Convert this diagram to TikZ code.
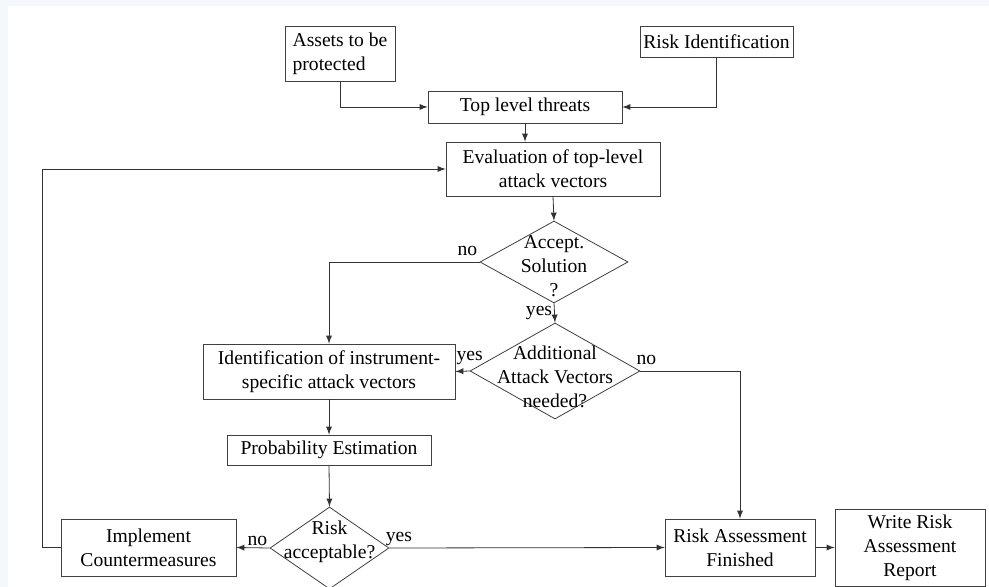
\documentclass[tikz,border=0pt]{standalone}
\usepackage{fontspec}
\setmainfont{Liberation Serif}
\usepackage{tikz}
\usetikzlibrary{arrows,shapes}
\definecolor{pagebg}{HTML}{F4F8FD}
\newcommand{\flowfont}{\fontsize{9.8}{12}\selectfont}
\tikzset{
	box/.style={draw=black!75, thin, rectangle, inner sep=0pt, align=center, font=\flowfont},
	decision/.style={draw=black!75, thin, diamond, inner sep=0pt, font=\flowfont},
	lbl/.style={font=\flowfont, inner sep=1pt},
	flow/.style={->, >=latex, draw=black!80, thin},
}

\begin{document}
\begin{tikzpicture}[x=0.5pt,y=-0.5pt]
	\useasboundingbox (0,0) rectangle (989,587);
	\clip (0,0) rectangle (989,587);
	\fill[pagebg] (0,0) rectangle (989,587);
	\fill[white] (8,6) rectangle (989,587);
	%
	\node[box, minimum width=55pt, minimum height=27.5pt, align=left] (assets) at (340,53.5) {Assets to be\\protected};
	\node[box, minimum width=76.5pt, minimum height=15.5pt] (riskid) at (716.5,41.5) {Risk Identification};
	\node[box, minimum width=97pt, minimum height=16pt] (top) at (525,107) {Top level threats};
	\node[box, minimum width=107pt, minimum height=27pt] (eval) at (553,169) {Evaluation of top-level\\attack vectors};
	\node[decision, minimum width=74pt, minimum height=41pt,
		label={[lbl, align=center, yshift=-2pt]center:Accept.\\Solution\\?}] (acc) at (554,262) {};
	\node[decision, minimum width=85pt, minimum height=48pt,
		label={[lbl, align=center, yshift=-3pt]center:Additional\\Attack Vectors\\needed?}] (add) at (555,371) {};
	\node[box, minimum width=126pt, minimum height=27.5pt] (ident) at (329,371.5) {Identification of instrument-\\specific attack vectors};
	\node[box, minimum width=102pt, minimum height=15pt] (prob) at (329,450) {Probability Estimation};
	\node[decision, minimum width=59.5pt, minimum height=41pt,
		label={[lbl, align=center, yshift=3pt]center:Risk\\acceptable?}] (risk) at (329.5,548) {};
	\node[box, minimum width=87.5pt, minimum height=28.5pt] (impl) at (148.5,547.5) {Implement\\Countermeasures};
	\node[box, minimum width=75pt, minimum height=28.5pt] (fin) at (740,547.5) {Risk Assessment\\Finished};
	\node[box, minimum width=75pt, minimum height=38.5pt] (report) at (910,547.5) {Write Risk\\Assessment\\Report};
	\coordinate (back) at (42,169);
	%
	\draw[flow] (assets.south) |- (top.west);
	\draw[flow] (riskid.south) |- (top.east);
	\draw[flow] (top.south) -- (top.south |- eval.north);
	\draw[flow] (eval.south) -- (acc.north);
	\draw[flow] (acc.west) -| node[lbl, pos=0, above left, yshift=2pt]{no} (ident.north);
	\draw[flow] (acc.south) -- node[lbl, left]{yes} (add.north);
	\draw[flow] (add.west) -- node[lbl, pos=0, above, yshift=2pt]{yes} (ident.east);
	\draw[flow] (add.east) -| node[lbl, pos=0, above, xshift=3pt, yshift=2pt]{no} (fin.north);
	\draw[flow] (ident.south) -- (prob.north);
	\draw[flow] (prob.south) -- (risk.north);
	\draw[flow] (risk.west) -- node[lbl, pos=0, above left]{no} (impl.east);
	\draw[flow] (risk.east) -- node[lbl, pos=0, above right, xshift=-3pt]{yes} (fin.west);
	\draw[flow] (fin.east) -- (report.west);
	\draw[flow] (impl.west) -| (back) -- (eval.west);
\end{tikzpicture}
\end{document}
